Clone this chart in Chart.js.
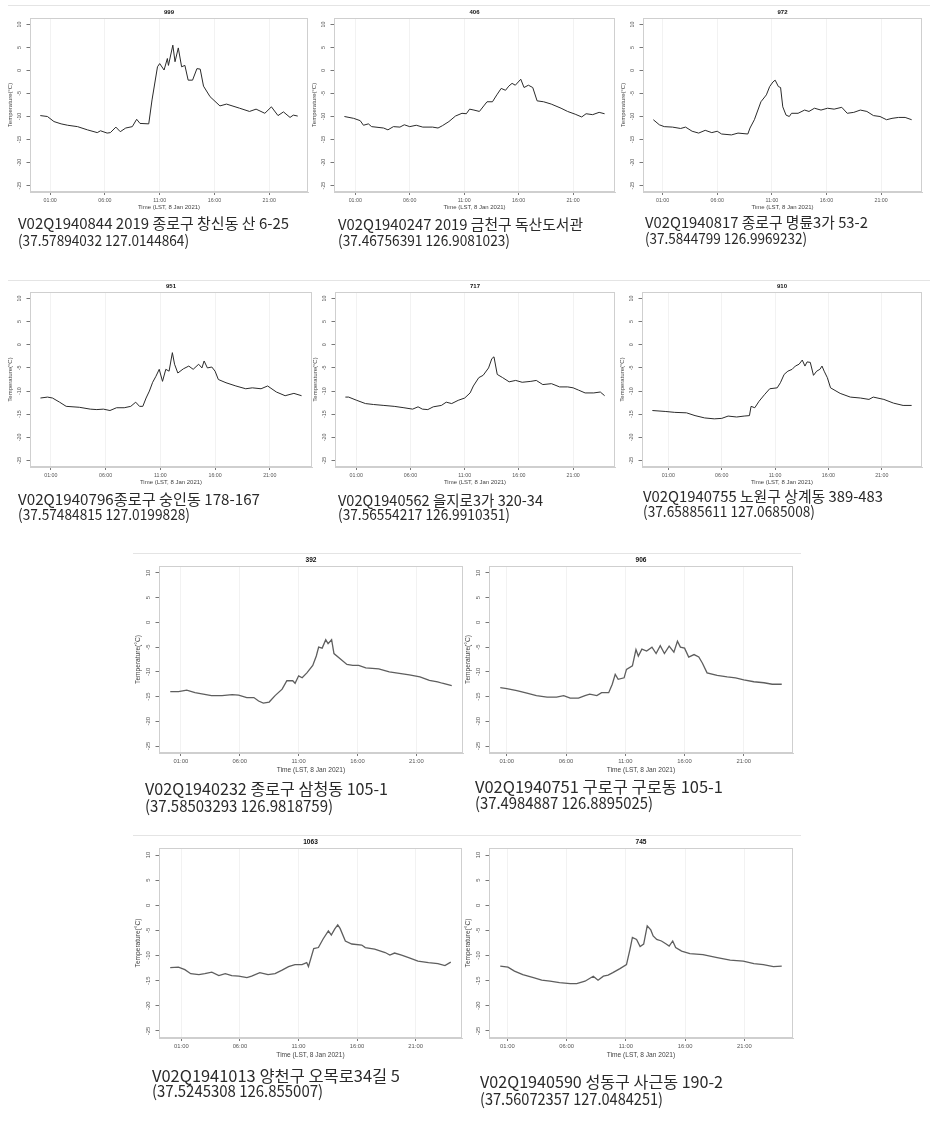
<!DOCTYPE html>
<html>
<head>
<meta charset="utf-8">
<script src="https://cdn.jsdelivr.net/npm/chart.js@4"></script>
<style>
  body { margin: 0; background: #fff; width: 942px; height: 1127px; position: relative; overflow: hidden; }
  canvas { position: absolute; }
  .sep { position: absolute; height: 1px; background: #e4e4e4; }
  .cap { position: absolute; white-space: nowrap; color: #2a2a2a; font-family: "Noto Sans CJK KR", sans-serif; transform-origin: 0 50%; }
</style>
</head>
<body>
<script>
// shared axis values
const hourTicks = [1, 6, 11, 16, 21];
const tempTicks = [10, 5, 0, -5, -10, -15, -20, -25];
const yMin = -26.4, yMax = 11.4;

// station 999 (창신동)
const t999 = [0.1,0.75,1.35,2.0,2.6,3.5,4.4,5.3,5.6,6.2,6.5,7.0,7.4,7.9,8.5,8.9,9.2,10.0,10.3,10.8,11.0,11.4,11.7,11.8,12.2,12.4,12.7,13.0,13.3,13.6,14.0,14.4,14.7,15.0,15.6,16.5,17.1,18.3,19.2,19.8,20.6,21.2,21.8,22.3,22.9,23.2,23.6];
const v999 = [-9.8,-10.0,-11.1,-11.6,-11.9,-12.2,-12.9,-13.5,-13.1,-13.6,-13.5,-12.3,-13.3,-12.5,-12.2,-10.6,-11.5,-11.6,-6.4,0.8,1.5,0.1,2.6,1.1,5.5,1.9,4.9,0.8,1.1,-2.1,-2.1,0.4,0.3,-3.4,-5.7,-7.7,-7.3,-8.2,-8.9,-8.4,-9.3,-7.9,-9.8,-9.0,-10.2,-9.7,-9.9];

// station 406 (독산도서관)
const t406 = [0,0.85,1.45,1.75,2.2,2.5,3.6,4.0,4.5,5.1,5.5,6.0,6.6,7.2,8.1,8.6,9.0,9.6,10.2,10.8,11.2,11.5,11.9,12.4,12.8,13.1,13.6,14.0,14.4,14.8,15.1,15.4,15.7,16.2,16.5,16.9,17.3,17.7,18.3,19.0,19.9,20.5,21.2,21.8,22.2,22.8,23.4,23.9];
const v406 = [-10.0,-10.4,-10.9,-11.9,-11.6,-12.2,-12.5,-12.9,-12.2,-12.3,-11.8,-12.2,-11.9,-12.3,-12.3,-12.5,-12.0,-11.1,-9.9,-9.3,-9.4,-8.4,-8.6,-8.9,-7.7,-6.8,-6.8,-5.3,-3.9,-4.3,-3.4,-2.8,-3.2,-1.9,-3.7,-3.2,-3.7,-6.6,-6.8,-7.3,-8.2,-8.9,-9.5,-10.1,-9.4,-9.6,-9.1,-9.4];

// station 972 (명륜3가)
const t972 = [0.15,0.7,1.15,1.9,2.65,3.1,3.7,4.3,4.9,5.5,6.0,6.4,7.3,7.9,8.8,9.0,9.4,10.0,10.5,10.8,11.1,11.3,11.6,11.8,12.0,12.3,12.6,12.8,13.4,14.0,14.4,14.9,15.5,16.1,16.7,17.4,17.9,18.5,19.1,19.7,20.3,20.9,21.5,22.0,22.6,23.2,23.8];
const v972 = [-10.7,-11.8,-12.2,-12.3,-12.6,-12.3,-13.2,-13.6,-13.0,-13.5,-13.2,-13.8,-14.0,-13.6,-13.8,-12.5,-10.7,-6.8,-5.3,-3.5,-2.5,-2.1,-3.5,-3.7,-7.9,-9.7,-10.0,-9.3,-9.3,-8.6,-8.9,-8.2,-8.6,-8.2,-8.4,-8.0,-9.3,-9.1,-8.6,-8.9,-9.8,-10.0,-10.7,-10.4,-10.2,-10.2,-10.7];

// station 951 (숭인동)
const t951 = [0.05,0.7,1.15,1.8,2.4,3.6,4.6,5.2,5.8,6.4,7.0,7.7,8.3,8.75,9.1,9.4,9.7,10.0,10.3,10.6,10.9,11.2,11.5,11.8,12.1,12.3,12.6,13.1,13.6,14.0,14.5,14.8,15.0,15.3,15.7,16.0,16.3,17.0,17.9,18.8,19.4,20.2,20.8,21.6,22.4,23.2,23.9];
const v951 = [-11.5,-11.3,-11.5,-12.4,-13.3,-13.5,-13.9,-14.0,-13.9,-14.2,-13.6,-13.6,-13.3,-12.4,-13.3,-13.3,-11.5,-10.0,-8.1,-6.8,-5.3,-7.9,-5.3,-5.7,-1.7,-4.2,-6.1,-5.2,-4.6,-5.3,-4.2,-5.0,-3.5,-5.0,-4.8,-5.7,-7.5,-8.2,-8.9,-9.5,-9.3,-9.5,-8.9,-10.2,-11.0,-10.5,-11.0];

// station 717 (을지로3가)
const t717 = [0,0.3,1.05,1.85,2.6,3.55,4.5,5.4,6.2,6.7,7.1,7.6,8.1,8.85,9.3,9.8,10.4,11.0,11.5,11.8,12.3,12.7,13.2,13.5,13.7,14.0,14.5,15.1,15.7,16.3,17.1,17.6,18.2,19.0,19.75,20.5,21.0,21.5,22.1,22.9,23.5,23.9];
const v717 = [-11.3,-11.3,-12.0,-12.7,-12.9,-13.1,-13.3,-13.6,-13.9,-13.4,-13.9,-14.0,-13.4,-13.1,-12.4,-12.7,-12.0,-11.5,-10.4,-8.9,-7.1,-6.6,-5.0,-3.0,-2.6,-6.4,-7.1,-8.0,-7.7,-8.1,-7.9,-7.7,-8.6,-8.4,-9.1,-9.1,-9.3,-9.8,-10.4,-10.4,-10.2,-11.0];

// station 910 (상계동)
const t910 = [-0.5,0.7,1.6,2.7,3.5,4.4,5.3,6.0,6.6,7.4,8.1,8.6,8.75,9.1,9.5,10.0,10.5,11.2,11.5,11.85,12.2,12.6,12.9,13.25,13.55,13.8,14.0,14.3,14.6,14.9,15.2,15.4,15.6,15.9,16.2,17.1,18.05,19.0,19.8,20.2,21.2,22.1,23.0,23.8];
const v910 = [-14.2,-14.4,-14.6,-14.7,-15.3,-15.8,-16.0,-15.9,-15.4,-15.6,-15.4,-15.3,-13.3,-13.6,-12.2,-10.8,-9.5,-9.3,-8.2,-6.4,-5.7,-5.3,-4.6,-4.2,-3.3,-4.6,-3.7,-3.8,-6.6,-5.7,-5.3,-4.6,-5.7,-7.1,-9.3,-10.5,-11.3,-11.5,-11.8,-11.3,-11.8,-12.6,-13.1,-13.1];

// station 392 (삼청동)
const t392 = [0.1,0.8,1.5,2.2,2.9,3.6,4.5,5.35,5.9,6.6,7.2,7.6,8.0,8.5,9.0,9.6,10.0,10.5,10.7,11.0,11.3,11.7,12.2,12.5,12.7,13.0,13.3,13.5,13.8,14.0,14.6,15.1,15.6,16.1,16.7,17.8,18.7,19.55,20.4,21.3,22.1,22.8,23.2,24.0];
const v392 = [-14.0,-14.0,-13.7,-14.2,-14.5,-14.8,-14.8,-14.6,-14.7,-15.2,-15.2,-15.9,-16.3,-16.1,-14.8,-13.5,-11.8,-11.8,-12.3,-10.8,-11.2,-10.2,-8.7,-6.8,-5.0,-5.2,-3.5,-4.3,-3.5,-6.3,-7.5,-8.5,-8.7,-8.7,-9.2,-9.4,-10.0,-10.3,-10.6,-11.0,-11.7,-12.0,-12.3,-12.8];

// station 906 (구로동)
const t906 = [0.45,1.0,1.85,2.7,3.5,4.4,5.2,5.8,6.35,7.05,7.6,8.0,8.6,9.0,9.6,9.9,10.15,10.4,10.9,11.1,11.6,11.9,12.1,12.4,12.8,13.25,13.6,13.95,14.3,14.7,15.1,15.4,15.65,16.0,16.35,16.8,17.2,17.5,17.9,18.75,19.6,20.3,21.0,21.85,22.7,23.4,24.2];
const v906 = [-13.2,-13.4,-13.8,-14.3,-14.8,-15.1,-15.1,-14.8,-15.3,-15.3,-14.8,-14.5,-14.8,-14.2,-14.2,-12.5,-10.5,-11.5,-11.2,-9.5,-8.8,-5.5,-6.8,-5.4,-5.8,-5.0,-6.3,-4.7,-6.3,-4.8,-6.0,-3.8,-5.0,-5.2,-7.0,-6.5,-7.0,-8.2,-10.2,-10.7,-11.0,-11.2,-11.6,-12.0,-12.2,-12.5,-12.5];

// station 1063 (오목로34길)
const t1063 = [0.05,0.75,1.3,1.8,2.5,3.0,3.6,4.2,4.75,5.3,5.9,6.6,7.0,7.7,8.4,9.0,9.6,10.15,10.7,11.3,11.7,11.85,12.3,12.7,13.1,13.55,13.8,14.1,14.35,14.55,15.0,15.55,16.4,16.7,17.5,18.4,18.8,19.2,19.8,20.4,21.2,22.1,22.9,23.5,24.0];
const v1063 = [-12.4,-12.3,-12.8,-13.6,-13.8,-13.6,-13.3,-14.0,-13.6,-14.0,-14.1,-14.4,-14.1,-13.4,-13.8,-13.6,-12.9,-12.2,-11.8,-11.8,-11.4,-12.2,-8.6,-8.4,-6.7,-5.1,-5.9,-4.7,-3.9,-4.6,-7.1,-7.7,-7.9,-8.4,-8.7,-9.4,-9.9,-9.5,-9.9,-10.4,-11.1,-11.4,-11.6,-12.0,-11.3];

// station 745 (사근동)
const t745 = [0.4,1.05,1.6,2.3,3.2,3.9,4.6,5.4,6.3,6.85,7.55,8.25,8.65,9.1,9.5,9.9,10.5,11.05,11.35,11.55,11.9,12.2,12.5,12.8,13.1,13.3,13.6,14.0,14.4,14.65,14.95,15.2,15.7,16.4,17.5,18.7,19.8,20.9,21.8,22.6,23.45,24.15];
const v745 = [-12.1,-12.3,-13.1,-13.8,-14.4,-14.9,-15.1,-15.4,-15.6,-15.6,-15.1,-14.1,-14.9,-14.1,-13.9,-13.4,-12.6,-11.8,-8.7,-6.4,-6.8,-8.2,-7.7,-4.1,-4.9,-6.1,-6.8,-7.1,-7.7,-8.1,-7.1,-8.4,-9.1,-9.6,-9.8,-10.4,-10.9,-11.1,-11.6,-11.8,-12.2,-12.1];

// panel layout: box = [left, top, right, bottom] of the plot frame; capW = caption line widths
const panels = [
  { name: '999',  t: t999,  v: v999,  box: [30, 18, 308, 192],    big: false, capX: 18,  capY: [223, 240],  capW: [271, 171],
    cap: ['V02Q1940844 2019 종로구 창신동 산 6-25', '(37.57894032 127.0144864)'] },
  { name: '406',  t: t406,  v: v406,  box: [334, 18, 615, 192],   big: false, capX: 338, capY: [224, 240],  capW: [245, 172],
    cap: ['V02Q1940247 2019 금천구 독산도서관', '(37.46756391 126.9081023)'] },
  { name: '972',  t: t972,  v: v972,  box: [643, 18, 922, 192],   big: false, capX: 645, capY: [222, 238],  capW: [223, 162],
    cap: ['V02Q1940817 종로구 명륜3가 53-2', '(37.5844799 126.9969232)'] },
  { name: '951',  t: t951,  v: v951,  box: [30, 292, 312, 467],   big: false, capX: 18,  capY: [499, 514],  capW: [242, 172],
    cap: ['V02Q1940796종로구 숭인동 178-167', '(37.57484815 127.0199828)'] },
  { name: '717',  t: t717,  v: v717,  box: [335, 292, 615, 467],  big: false, capX: 338, capY: [500, 514],  capW: [205, 172],
    cap: ['V02Q1940562 을지로3가 320-34', '(37.56554217 126.9910351)'] },
  { name: '910',  t: t910,  v: v910,  box: [642, 292, 922, 467],  big: false, capX: 643, capY: [496, 511],  capW: [240, 172],
    cap: ['V02Q1940755 노원구 상계동 389-483', '(37.65885611 127.0685008)'] },
  { name: '392',  t: t392,  v: v392,  box: [159, 566, 463, 753],  big: true,  capX: 145, capY: [788, 805],  capW: [243, 188],
    cap: ['V02Q1940232 종로구 삼청동 105-1', '(37.58503293 126.9818759)'] },
  { name: '906',  t: t906,  v: v906,  box: [489, 566, 793, 753],  big: true,  capX: 475, capY: [786, 802],  capW: [248, 178],
    cap: ['V02Q1940751 구로구 구로동 105-1', '(37.4984887 126.8895025)'] },
  { name: '1063', t: t1063, v: v1063, box: [159, 848, 462, 1038], big: true,  capX: 152, capY: [1075, 1090], capW: [248, 171],
    cap: ['V02Q1941013 양천구 오목로34길 5', '(37.5245308 126.855007)'] },
  { name: '745',  t: t745,  v: v745,  box: [489, 848, 793, 1038], big: true,  capX: 480, capY: [1081, 1098], capW: [243, 183],
    cap: ['V02Q1940590 성동구 사근동 190-2', '(37.56072357 127.0484251)'] }
];

// thin grey separators between the screenshot rows
const seps = [[8, 5, 922], [8, 280, 922], [133, 553, 668], [133, 835, 668]];
seps.forEach(([x, y, w]) => {
  const d = document.createElement('div');
  d.className = 'sep';
  Object.assign(d.style, { left: x + 'px', top: y + 'px', width: w + 'px' });
  document.body.appendChild(d);
});

const FONT = '"Liberation Sans", Arial, sans-serif';
Chart.defaults.font.family = FONT;

// frame, panel title and rotated y tick labels (R look)
const rFrame = {
  id: 'rFrame',
  afterDraw(chart, args, opts) {
    const { ctx, chartArea: a, scales: { y } } = chart;
    const s = opts.s;
    ctx.save();
    ctx.strokeStyle = '#cfcfcf';
    ctx.lineWidth = 1;
    ctx.strokeRect(a.left + 0.5, a.top + 0.5, a.right - a.left - 1, a.bottom - a.top - 1);
    ctx.fillStyle = '#111';
    ctx.font = `bold ${6 * s}px ${FONT}`;
    ctx.textAlign = 'center';
    ctx.textBaseline = 'middle';
    ctx.fillText(opts.title, (a.left + a.right) / 2, a.top - 6);
    ctx.fillStyle = '#555';
    ctx.font = `${5.3 * s}px ${FONT}`;
    y.ticks.forEach(tk => {
      ctx.save();
      ctx.translate(a.left - 10 * s, y.getPixelForValue(tk.value));
      ctx.rotate(-Math.PI / 2);
      ctx.fillText(String(tk.value), 0, 0);
      ctx.restore();
    });
    ctx.restore();
  }
};

function makePanel(p) {
  const [L, T, R, B] = p.box;
  const s = p.big ? 1.1 : 1;
  const padL = 32, padT = 14, padR = 4, padB = 24;
  const w = R - L + padL + padR, h = B - T + padT + padB;
  const cv = document.createElement('canvas');
  cv.width = w; cv.height = h;
  Object.assign(cv.style, { left: (L - padL) + 'px', top: (T - padT) + 'px', width: w + 'px', height: h + 'px' });
  document.body.appendChild(cv);

  const pts = p.t.map((x, i) => ({ x: x, y: p.v[i] }));
  const tMin = Math.min(...p.t), tMax = Math.max(...p.t);
  const ext = (tMax - tMin) * 0.04;

  new Chart(cv, {
    type: 'line',
    data: {
      datasets: [{
        data: pts,
        borderColor: p.big ? '#5e5e5e' : '#2a2a2a',
        borderWidth: p.big ? 1.3 : 1,
        pointRadius: 0,
        tension: 0,
        fill: false
      }]
    },
    options: {
      responsive: false,
      animation: false,
      layout: { padding: { top: padT, right: padR, left: 0, bottom: 0 } },
      plugins: {
        legend: { display: false },
        tooltip: { enabled: false },
        rFrame: { title: p.name, s: s }
      },
      scales: {
        x: {
          type: 'linear',
          min: tMin - ext,
          max: tMax + ext,
          afterBuildTicks: sc => { sc.ticks = hourTicks.map(v => ({ value: v })); },
          afterFit: sc => { sc.height = padB; },
          ticks: {
            autoSkip: false, maxRotation: 0, color: '#555', padding: 2,
            font: { size: 5.3 * s },
            callback: v => (v < 10 ? '0' : '') + v + ':00'
          },
          grid: { color: '#f2f2f2', tickColor: '#777', tickLength: 3 },
          border: { color: '#cfcfcf' },
          title: {
            display: true, text: 'Time (LST, 8 Jan 2021)', color: '#444',
            font: { size: 6 * s }, padding: { top: 0, bottom: p.big ? 3 : 5.4 }
          }
        },
        y: {
          min: yMin,
          max: yMax,
          afterBuildTicks: sc => { sc.ticks = tempTicks.map(v => ({ value: v })); },
          afterFit: sc => { sc.width = padL; },
          ticks: { display: false },
          grid: { drawOnChartArea: false, tickColor: '#777', tickLength: 3.5 },
          border: { color: '#cfcfcf' },
          title: {
            display: true, text: 'Temperature(°C)', color: '#444',
            font: { size: 6 * s }, padding: { top: p.big ? 7 : 8.4, bottom: 0 }
          }
        }
      }
    },
    plugins: [rFrame]
  });
}

// captions under each panel, each line squeezed to its measured width
function makeCaption(p) {
  const size = p.big ? 16 : 15;
  p.cap.forEach((txt, i) => {
    const d = document.createElement('div');
    d.className = 'cap';
    d.textContent = txt;
    Object.assign(d.style, {
      left: p.capX + 'px', top: (p.capY[i] - 12) + 'px',
      fontSize: size + 'px', lineHeight: '24px'
    });
    document.body.appendChild(d);
    const k = p.capW[i] / d.getBoundingClientRect().width;
    d.style.transform = `scaleX(${k.toFixed(3)})`;
  });
}

panels.forEach(p => { makePanel(p); makeCaption(p); });
</script>
</body>
</html>
